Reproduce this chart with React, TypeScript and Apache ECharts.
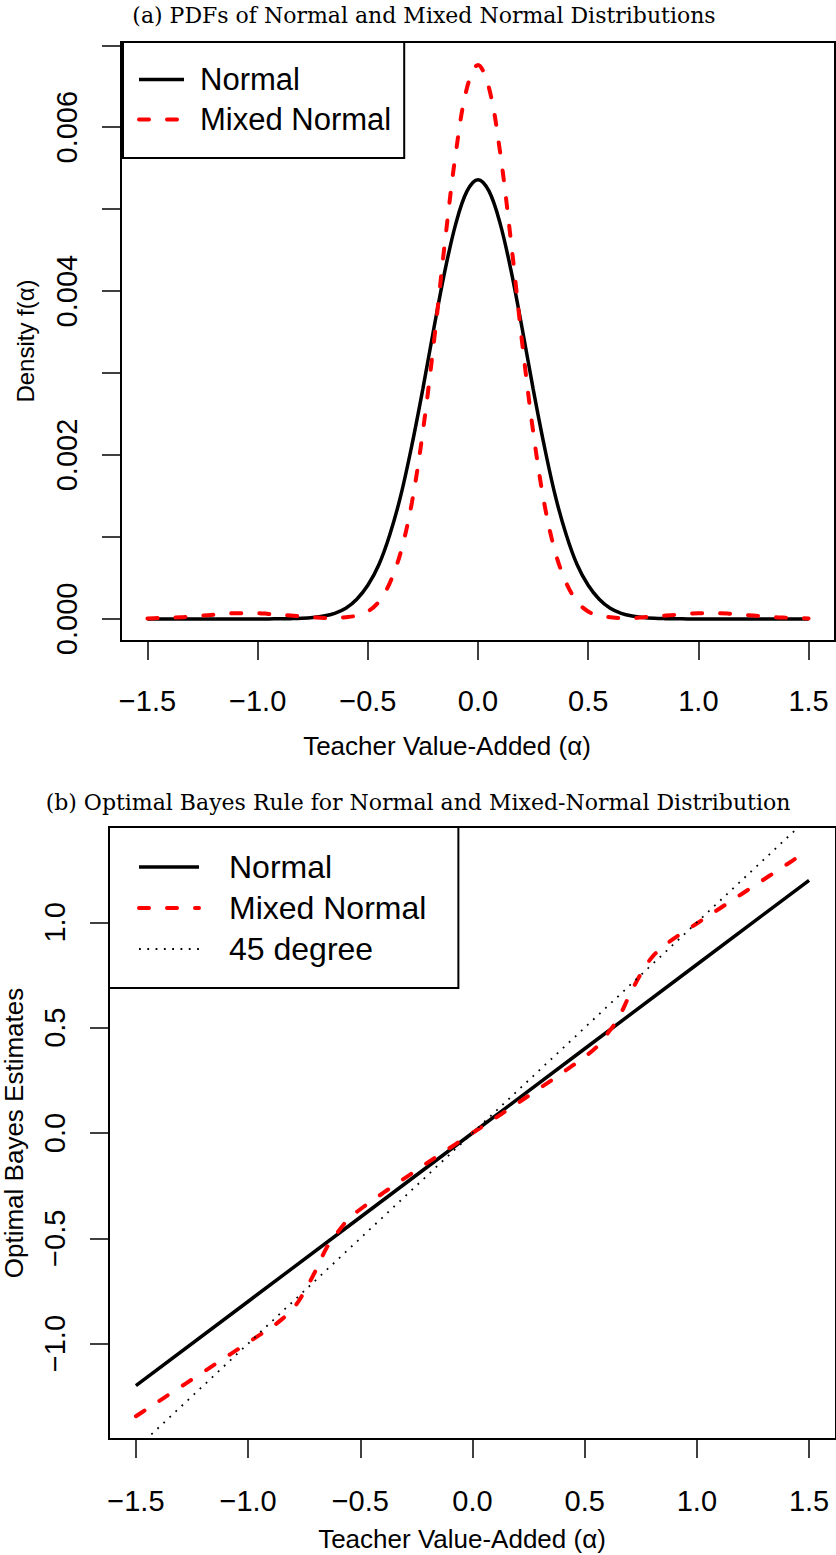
import React, { useEffect, useRef } from "react";
import * as echarts from "echarts";

// ---- data ----
const xGrid = [
  -1.5, -1.45, -1.4, -1.35, -1.3, -1.25, -1.2, -1.15, -1.1, -1.05, -1.0, -0.95, -0.9, -0.85, -0.8, -0.75,
  -0.7, -0.65, -0.6, -0.55, -0.5, -0.45, -0.4, -0.35, -0.3, -0.25, -0.2, -0.15, -0.1, -0.05, 0.0,
  0.05, 0.1, 0.15, 0.2, 0.25, 0.3, 0.35, 0.4, 0.45, 0.5, 0.55, 0.6, 0.65, 0.7, 0.75, 0.8, 0.85,
  0.9, 0.95, 1.0, 1.05, 1.1, 1.15, 1.2, 1.25, 1.3, 1.35, 1.4, 1.45, 1.5,
];

const densityNormal = [
  0, 0, 0, 0, 0, 0, 0, 0, 0, 0, 0, 0,
  0.000001, 0.000003, 0.000007, 0.000016, 0.000034, 0.000068, 0.00013, 0.00024, 0.00041, 0.00066,
  0.00103, 0.00151, 0.00212, 0.00281, 0.00355, 0.00425, 0.00483, 0.00522,
  0.00536,
  0.00522, 0.00483, 0.00425, 0.00355, 0.00281, 0.00212, 0.00151, 0.00103,
  0.00066, 0.00041, 0.00024, 0.00013, 0.000068, 0.000034, 0.000016, 0.000007, 0.000003, 0.000001,
  0, 0, 0, 0, 0, 0, 0, 0, 0, 0, 0, 0,
];

const densityMixed = [
  0.000005, 0.00001, 0.000015, 0.00002, 0.00003, 0.00004, 0.00005, 0.00006, 0.00007, 0.00007,
  0.00007, 0.00006, 0.00005, 0.00004, 0.00003, 0.00002, 0.00001, 0.00001, 0.00002, 0.00004,
  0.00009, 0.00021, 0.00044, 0.00082, 0.00142, 0.00229, 0.00338, 0.0046, 0.0057, 0.00648,
  0.00676,
  0.00648, 0.0057, 0.0046, 0.00338, 0.00229, 0.00142, 0.00082, 0.00044, 0.00021, 0.00009,
  0.00004, 0.00002, 0.00001, 0.00001, 0.00002, 0.00003, 0.00004, 0.00005, 0.00006, 0.00007,
  0.00007, 0.00007, 0.00006, 0.00005, 0.00004, 0.00003, 0.00002, 0.000015, 0.00001, 0.000005,
];

const bayesMixed = [
  -1.345, -1.31, -1.275, -1.24, -1.205, -1.17, -1.135, -1.1, -1.065, -1.03,
  -0.995, -0.96, -0.925, -0.885, -0.835, -0.755, -0.655, -0.545, -0.47, -0.405,
  -0.362, -0.323, -0.286, -0.249, -0.213, -0.177, -0.141, -0.105, -0.07, -0.035,
  0,
  0.035, 0.07, 0.105, 0.141, 0.177, 0.213, 0.249, 0.286, 0.323, 0.362,
  0.405, 0.47, 0.545, 0.655, 0.755, 0.835, 0.885, 0.925, 0.96, 0.995,
  1.03, 1.065, 1.1, 1.135, 1.17, 1.205, 1.24, 1.275, 1.31, 1.345,
];

const bayesNormalX = [-1.5, -1.0, -0.5, 0, 0.5, 1.0, 1.5];
const bayesNormal = [-1.2, -0.8, -0.4, 0, 0.4, 0.8, 1.2];

const diagonalX = [-1.62, 1.62];
const diagonalY = [-1.62, 1.62];

const xTickValues = [-1.5, -1.0, -0.5, 0, 0.5, 1.0, 1.5];
const xTickLabels = ["\u22121.5", "\u22121.0", "\u22120.5", "0.0", "0.5", "1.0", "1.5"];

const densTickValues = [0, 0.001, 0.002, 0.003, 0.004, 0.005, 0.006, 0.007];
const densLabelValues = [0, 0.002, 0.004, 0.006];
const densLabels = ["0.000", "0.002", "0.004", "0.006"];

const bayesTickValues = [-1.0, -0.5, 0, 0.5, 1.0];
const bayesLabels = ["\u22121.0", "\u22120.5", "0.0", "0.5", "1.0"];

const SANS = "'Liberation Sans', Arial, Helvetica, sans-serif";
const SERIF = "'DejaVu Serif', 'Liberation Serif', serif";

function lookup(values: number[], labels: string[]) {
  return (v: number) => {
    const i = values.findIndex((t) => Math.abs(t - v) < 1e-9);
    return i >= 0 ? labels[i] : "";
  };
}

const pairs = (xs: number[], ys: number[]) => xs.map((x, i) => [x, ys[i]]);

export default function App() {
  const ref = useRef<HTMLDivElement>(null);

  useEffect(() => {
    if (!ref.current) return;
    const chart = echarts.init(ref.current, undefined, { renderer: "svg" });

    const xAxisCommon = (grid: number, margin: number) => ({
      gridIndex: grid,
      type: "value",
      min: -1.62,
      max: 1.62,
      axisLine: { show: false, onZero: false },
      splitLine: { show: false },
      axisTick: {
        show: true,
        inside: false,
        customValues: xTickValues,
        length: 19,
        lineStyle: { color: "#000", width: 1.5 },
      },
      axisLabel: {
        customValues: xTickValues,
        formatter: lookup(xTickValues, xTickLabels),
        fontSize: 29,
        fontFamily: SANS,
        color: "#000",
        margin,
      },
    });

    const redDash = {
      color: "#ff0000",
      width: 4,
      type: [10, 18] as number[],
      cap: "round",
    };

    const legendCommon = {
      orient: "vertical",
      itemGap: 9,
      itemHeight: 14,
      backgroundColor: "#fff",
      borderColor: "#000",
      borderWidth: 2,
      borderRadius: 0,
      selectedMode: false,
      itemStyle: { opacity: 0 },
      lineStyle: { width: "inherit", type: "inherit", cap: "inherit" },
    };

    const option: any = {
      animation: false,
      backgroundColor: "#fff",
      grid: [
        { left: 121, top: 42, width: 714, height: 599, show: true, borderColor: "#000", borderWidth: 2 },
        { left: 109, top: 827, width: 729, height: 612, show: true, borderColor: "#000", borderWidth: 2 },
      ],
      xAxis: [xAxisCommon(0, 45), xAxisCommon(1, 47)],
      yAxis: [
        {
          gridIndex: 0,
          type: "value",
          min: -0.00027,
          max: 0.00704,
          axisLine: { show: false, onZero: false },
          splitLine: { show: false },
          axisTick: {
            show: true,
            inside: false,
            customValues: densTickValues,
            length: 19,
            lineStyle: { color: "#000", width: 1.5 },
          },
          axisLabel: {
            customValues: densLabelValues,
            formatter: lookup(densLabelValues, densLabels),
            rotate: 90,
            fontSize: 29,
            fontFamily: SANS,
            color: "#000",
            margin: 40,
          },
        },
        {
          gridIndex: 1,
          type: "value",
          min: -1.453,
          max: 1.453,
          axisLine: { show: false, onZero: false },
          splitLine: { show: false },
          axisTick: {
            show: true,
            inside: false,
            customValues: bayesTickValues,
            length: 19,
            lineStyle: { color: "#000", width: 1.5 },
          },
          axisLabel: {
            customValues: bayesTickValues,
            formatter: lookup(bayesTickValues, bayesLabels),
            rotate: 90,
            fontSize: 29,
            fontFamily: SANS,
            color: "#000",
            margin: 40,
          },
        },
      ],
      legend: [
        {
          ...legendCommon,
          data: ["Normal", "Mixed Normal"],
          left: 123,
          top: 42,
          padding: [22, 13, 23, 14],
          itemWidth: 45,
          textStyle: {
            fontSize: 31,
            fontFamily: SANS,
            color: "#000",
            lineHeight: 30,
            padding: [0, 0, 0, 11],
          },
        },
        {
          ...legendCommon,
          data: ["Normal", "Mixed Normal", "45 degree"],
          left: 109,
          top: 827,
          padding: [24, 32, 23, 28],
          itemWidth: 60,
          textStyle: {
            fontSize: 32,
            fontFamily: SANS,
            color: "#000",
            lineHeight: 30,
            padding: [0, 0, 0, 25],
          },
        },
      ],
      series: [
        {
          name: "Normal",
          type: "line",
          xAxisIndex: 0,
          yAxisIndex: 0,
          data: pairs(xGrid, densityNormal),
          symbol: "none",
          smooth: 0.35,
          lineStyle: { color: "#000", width: 3.5 },
          itemStyle: { color: "#000" },
          z: 2,
        },
        {
          name: "Mixed Normal",
          type: "line",
          xAxisIndex: 0,
          yAxisIndex: 0,
          data: pairs(xGrid, densityMixed),
          symbol: "none",
          smooth: 0.35,
          lineStyle: redDash,
          itemStyle: { color: "#ff0000" },
          z: 3,
        },
        {
          name: "Normal",
          type: "line",
          xAxisIndex: 1,
          yAxisIndex: 1,
          data: pairs(bayesNormalX, bayesNormal),
          symbol: "none",
          lineStyle: { color: "#000", width: 3.5 },
          itemStyle: { color: "#000" },
          z: 2,
        },
        {
          name: "Mixed Normal",
          type: "line",
          xAxisIndex: 1,
          yAxisIndex: 1,
          data: pairs(xGrid, bayesMixed),
          symbol: "none",
          smooth: 0.35,
          lineStyle: redDash,
          itemStyle: { color: "#ff0000" },
          z: 3,
        },
        {
          name: "45 degree",
          type: "line",
          xAxisIndex: 1,
          yAxisIndex: 1,
          data: pairs(diagonalX, diagonalY),
          symbol: "none",
          clip: true,
          lineStyle: { color: "#000", width: 1.8, type: [1.8, 6.5] },
          itemStyle: { color: "#000" },
          z: 4,
        },
      ],
      graphic: [
        {
          type: "text",
          x: 424,
          y: 15,
          style: {
            text: "(a) PDFs of Normal and Mixed Normal Distributions",
            fontFamily: SERIF,
            fontSize: 22,
            fill: "#000",
            align: "center",
            verticalAlign: "middle",
          },
        },
        {
          type: "text",
          x: 418,
          y: 802,
          style: {
            text: "(b) Optimal Bayes Rule for Normal and Mixed-Normal Distribution",
            fontFamily: SERIF,
            fontSize: 22,
            fill: "#000",
            align: "center",
            verticalAlign: "middle",
          },
        },
        {
          type: "text",
          x: 447,
          y: 746,
          style: {
            text: "Teacher Value-Added (\u03b1)",
            fontFamily: SANS,
            fontSize: 26,
            fill: "#000",
            align: "center",
            verticalAlign: "middle",
          },
        },
        {
          type: "text",
          x: 462,
          y: 1539,
          style: {
            text: "Teacher Value-Added (\u03b1)",
            fontFamily: SANS,
            fontSize: 26,
            fill: "#000",
            align: "center",
            verticalAlign: "middle",
          },
        },
        {
          type: "text",
          x: 25,
          y: 341,
          rotation: Math.PI / 2,
          style: {
            text: "Density f(\u03b1)",
            fontFamily: SANS,
            fontSize: 24,
            fill: "#000",
            align: "center",
            verticalAlign: "middle",
          },
        },
        {
          type: "text",
          x: 14,
          y: 1133,
          rotation: Math.PI / 2,
          style: {
            text: "Optimal Bayes Estimates",
            fontFamily: SANS,
            fontSize: 26,
            fill: "#000",
            align: "center",
            verticalAlign: "middle",
          },
        },
      ],
    };

    chart.setOption(option);
    return () => chart.dispose();
  }, []);

  return (
    <div
      ref={ref}
      style={{ position: "absolute", left: 0, top: 0, width: 836, height: 1555, background: "#fff" }}
    />
  );
}
